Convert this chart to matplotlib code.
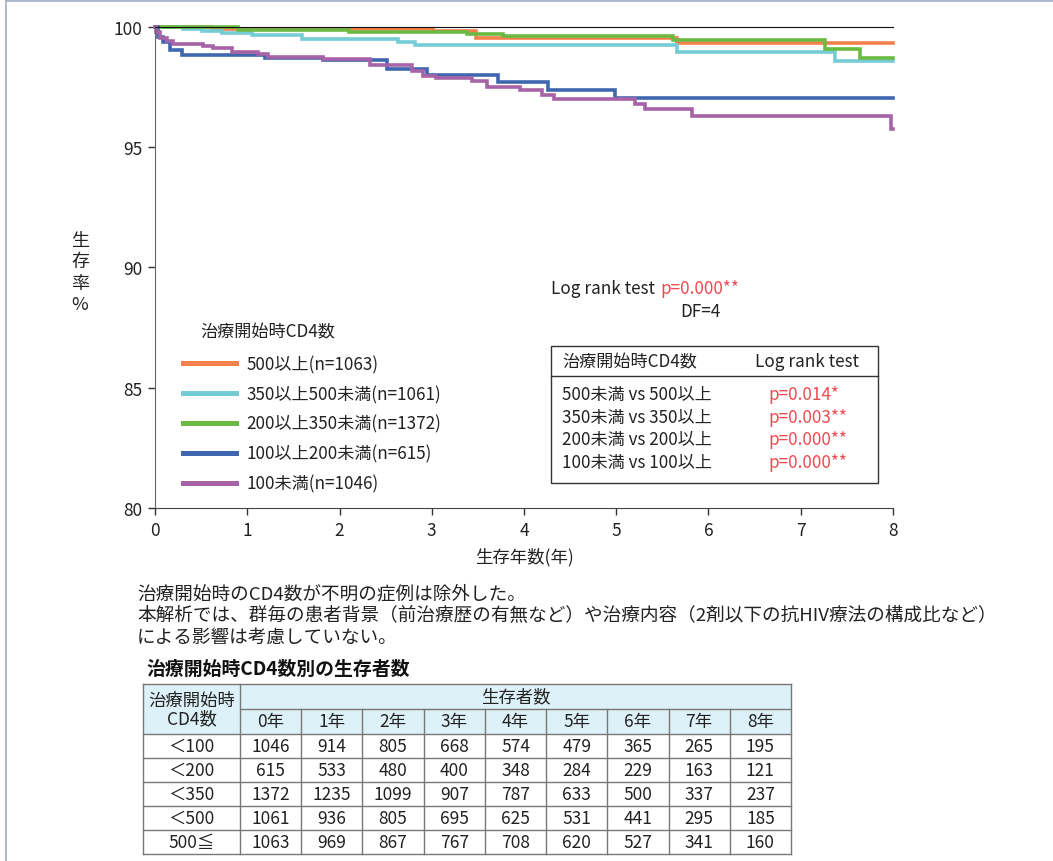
import matplotlib
matplotlib.use("Agg")
import matplotlib.pyplot as plt
from matplotlib.lines import Line2D
from matplotlib.patches import Rectangle

plt.rcParams['font.family'] = ['Noto Sans CJK JP', 'DejaVu Sans']

W, H = 1053, 862

# ---- Kaplan-Meier survival curves (years, survival %) ----
group_labels = ["500以上(n=1063)", "350以上500未満(n=1061)", "200以上350未満(n=1372)",
                "100以上200未満(n=615)", "100未満(n=1046)"]
group_colors = ["#F4804A", "#74CCD5", "#6CBA44", "#3E67B0", "#A763A8"]

t_500 = [0, 0.62, 3.01, 3.48, 5.66, 8.0]
s_500 = [100, 99.93, 99.82, 99.55, 99.35, 99.35]

t_350_500 = [0, 0.30, 0.51, 0.73, 1.05, 1.59, 2.63, 2.82, 5.66, 7.37, 8.0]
s_350_500 = [100, 99.92, 99.82, 99.75, 99.66, 99.50, 99.36, 99.25, 98.98, 98.60, 98.60]

t_200_350 = [0, 0.90, 2.10, 3.38, 3.77, 5.62, 7.26, 7.64, 8.0]
s_200_350 = [100, 99.88, 99.80, 99.70, 99.63, 99.46, 99.08, 98.70, 98.70]

t_100_200 = [0, 0.03, 0.09, 0.16, 0.29, 1.19, 1.82, 2.52, 2.95, 3.72, 4.26, 4.99, 8.0]
s_100_200 = [100, 99.58, 99.38, 99.04, 98.84, 98.70, 98.64, 98.25, 98.00, 97.70, 97.40, 97.05, 97.05]

t_100 = [0, 0.01, 0.05, 0.13, 0.20, 0.52, 0.63, 0.84, 1.12, 1.22, 1.82, 2.33, 2.79, 2.91,
         3.05, 3.44, 3.60, 3.96, 4.20, 4.32, 5.20, 5.31, 5.82, 7.98, 8.0]
s_100 = [100, 99.80, 99.55, 99.42, 99.31, 99.19, 99.11, 98.98, 98.89, 98.77, 98.67, 98.44,
         98.16, 97.98, 97.88, 97.74, 97.52, 97.38, 97.19, 97.01, 96.80, 96.59, 96.29, 95.76, 95.76]

curves = [(t_500, s_500), (t_350_500, s_350_500), (t_200_350, s_200_350),
          (t_100_200, s_100_200), (t_100, s_100)]

x_ticks = [0, 1, 2, 3, 4, 5, 6, 7, 8]
y_ticks = [80, 85, 90, 95, 100]

# ---- log-rank results ----
overall_test = "Log rank test"
overall_p = "p=0.000**"
overall_df = "DF=4"
pair_labels = ["500未満 vs 500以上", "350未満 vs 350以上", "200未満 vs 200以上", "100未満 vs 100以上"]
pair_p = ["p=0.014*", "p=0.003**", "p=0.000**", "p=0.000**"]

# ---- number at risk table ----
row_labels = ["＜100", "＜200", "＜350", "＜500", "500≦"]
year_labels = ["0年", "1年", "2年", "3年", "4年", "5年", "6年", "7年", "8年"]
at_risk = [
    [1046, 914, 805, 668, 574, 479, 365, 265, 195],
    [615, 533, 480, 400, 348, 284, 229, 163, 121],
    [1372, 1235, 1099, 907, 787, 633, 500, 337, 237],
    [1061, 936, 805, 695, 625, 531, 441, 295, 185],
    [1063, 969, 867, 767, 708, 620, 527, 341, 160],
]

notes = ["治療開始時のCD4数が不明の症例は除外した。",
         "本解析では、群毎の患者背景（前治療歴の有無など）や治療内容（2剤以下の抗HIV療法の構成比など）",
         "による影響は考慮していない。"]
table_title = "治療開始時CD4数別の生存者数"
y_label_chars = ["生", "存", "率", "%"]

RED = "#EE4A4F"
TXT = "#222222"

fig = plt.figure(figsize=(W / 100, H / 100), dpi=100)

# main survival plot
ax = fig.add_axes([155 / W, 1 - 509 / H, 738 / W, 481 / H])
for (t, s), c in zip(curves, group_colors):
    ax.step(t, s, where="post", color=c, lw=2.6, clip_on=False, solid_joinstyle="miter")
ax.set_xlim(0, 8)
ax.set_ylim(80, 100)
ax.set_xticks(x_ticks)
ax.set_yticks(y_ticks)
ax.tick_params(direction="out", length=5, width=1, labelsize=12.5, colors="#333333", pad=4)
for lbl in ax.get_xticklabels() + ax.get_yticklabels():
    lbl.set_color(TXT)
ax.spines["right"].set_visible(False)
ax.spines["top"].set_color("#111111")
ax.spines["left"].set_color("#666666")
ax.spines["bottom"].set_color("#444444")
ax.set_xlabel("生存年数(年)", fontsize=12.5, color=TXT, labelpad=6)

# overlay in pixel coordinates for annotations and the table (drawn above the plot)
ov = fig.add_axes([0, 0, 1, 1])
ov.set_xlim(0, W)
ov.set_ylim(H, 0)
ov.axis("off")
ov.patch.set_alpha(0)
ov.set_zorder(5)

# y-axis label, one character per line
for i, ch in enumerate(y_label_chars):
    ov.text(80, 241 + i * 21.5, ch, fontsize=13, color=TXT, ha="center", va="center")

# legend
ov.text(200, 332, "治療開始時CD4数", fontsize=12.3, color=TXT, ha="left", va="center")
handles = [Line2D([], [], color=c, lw=3.6) for c in group_colors]
fig.legend(handles, group_labels, loc="upper left",
           bbox_to_anchor=(183 / W, 1 - 356 / H), frameon=False, fontsize=12.3,
           handlelength=3.1, handletextpad=0.6, labelspacing=0.68,
           borderpad=0, borderaxespad=0, labelcolor=TXT)

# overall log-rank test
ov.text(551, 289, overall_test, fontsize=12.3, color=TXT, ha="left", va="center")
ov.text(660, 289, overall_p, fontsize=12.3, color=RED, ha="left", va="center")
ov.text(680, 312, overall_df, fontsize=12.3, color=TXT, ha="left", va="center")

# pairwise comparison box
ov.add_patch(Rectangle((551, 347), 327, 137, fill=False, ec="#333333", lw=1.0))
ov.plot([551, 878], [377, 377], color="#333333", lw=1.0)
ov.text(562, 362, "治療開始時CD4数", fontsize=12.3, color=TXT, ha="left", va="center")
ov.text(755, 362, overall_test, fontsize=12.3, color=TXT, ha="left", va="center")
for i, (lab, p) in enumerate(zip(pair_labels, pair_p)):
    y = 395 + i * 22.7
    ov.text(562, y, lab, fontsize=12.3, color=TXT, ha="left", va="center")
    ov.text(768, y, p, fontsize=12.3, color=RED, ha="left", va="center")

# notes below the plot
for i, line in enumerate(notes):
    ov.text(137, 594 + i * 22, line, fontsize=13.4, color=TXT, ha="left", va="center")
ov.text(146, 669, table_title, fontsize=13.6, color="#111111", ha="left", va="center",
        fontweight="bold")

# number-at-risk table
HEAD_BG = "#DDF1F8"
GRID = "#777777"
tx0, tx1 = 143, 240
col_w = (791 - 240) / len(year_labels)
ty0 = 685
hr1, hr2 = 25, 25
row_h = 24.0
table_bottom = ty0 + hr1 + hr2 + row_h * len(row_labels)

ov.add_patch(Rectangle((tx0, ty0), 791 - tx0, hr1 + hr2, fc=HEAD_BG, ec="none"))
# horizontal rules
ov.plot([tx0, 791], [ty0, ty0], color=GRID, lw=1)
ov.plot([tx1, 791], [ty0 + hr1, ty0 + hr1], color=GRID, lw=1)
for r in range(len(row_labels) + 1):
    yy = ty0 + hr1 + hr2 + r * row_h
    ov.plot([tx0, 791], [yy, yy], color=GRID, lw=1)
# vertical rules
ov.plot([tx0, tx0], [ty0, table_bottom], color=GRID, lw=1)
ov.plot([tx1, tx1], [ty0, table_bottom], color=GRID, lw=1)
for c in range(1, len(year_labels) + 1):
    xx = tx1 + c * col_w
    y_start = ty0 if c == len(year_labels) else ty0 + hr1
    ov.plot([xx, xx], [y_start, table_bottom], color=GRID, lw=1)

ov.text((tx0 + tx1) / 2, ty0 + (hr1 + hr2) / 2, "治療開始時\nCD4数", fontsize=12.5, color=TXT,
        ha="center", va="center", linespacing=1.0)
ov.text((tx1 + 791) / 2, ty0 + hr1 / 2, "生存者数", fontsize=12.5, color=TXT,
        ha="center", va="center")
for c, yl in enumerate(year_labels):
    ov.text(tx1 + (c + 0.5) * col_w, ty0 + hr1 + hr2 / 2, yl, fontsize=12.5, color=TXT,
            ha="center", va="center")
for r, (rl, vals) in enumerate(zip(row_labels, at_risk)):
    yc = ty0 + hr1 + hr2 + (r + 0.5) * row_h
    ov.text((tx0 + tx1) / 2, yc, rl, fontsize=12.5, color=TXT, ha="center", va="center")
    for c, v in enumerate(vals):
        ov.text(tx1 + (c + 0.5) * col_w, yc, str(v), fontsize=12.5, color=TXT,
                ha="center", va="center")

# page frame
ov.plot([6, W], [2, 2], color="#A4ACCB", lw=1.2)
ov.plot([6, 6], [2, H], color="#A4ACCB", lw=1.2)

fig.savefig("out.png", dpi=100)
